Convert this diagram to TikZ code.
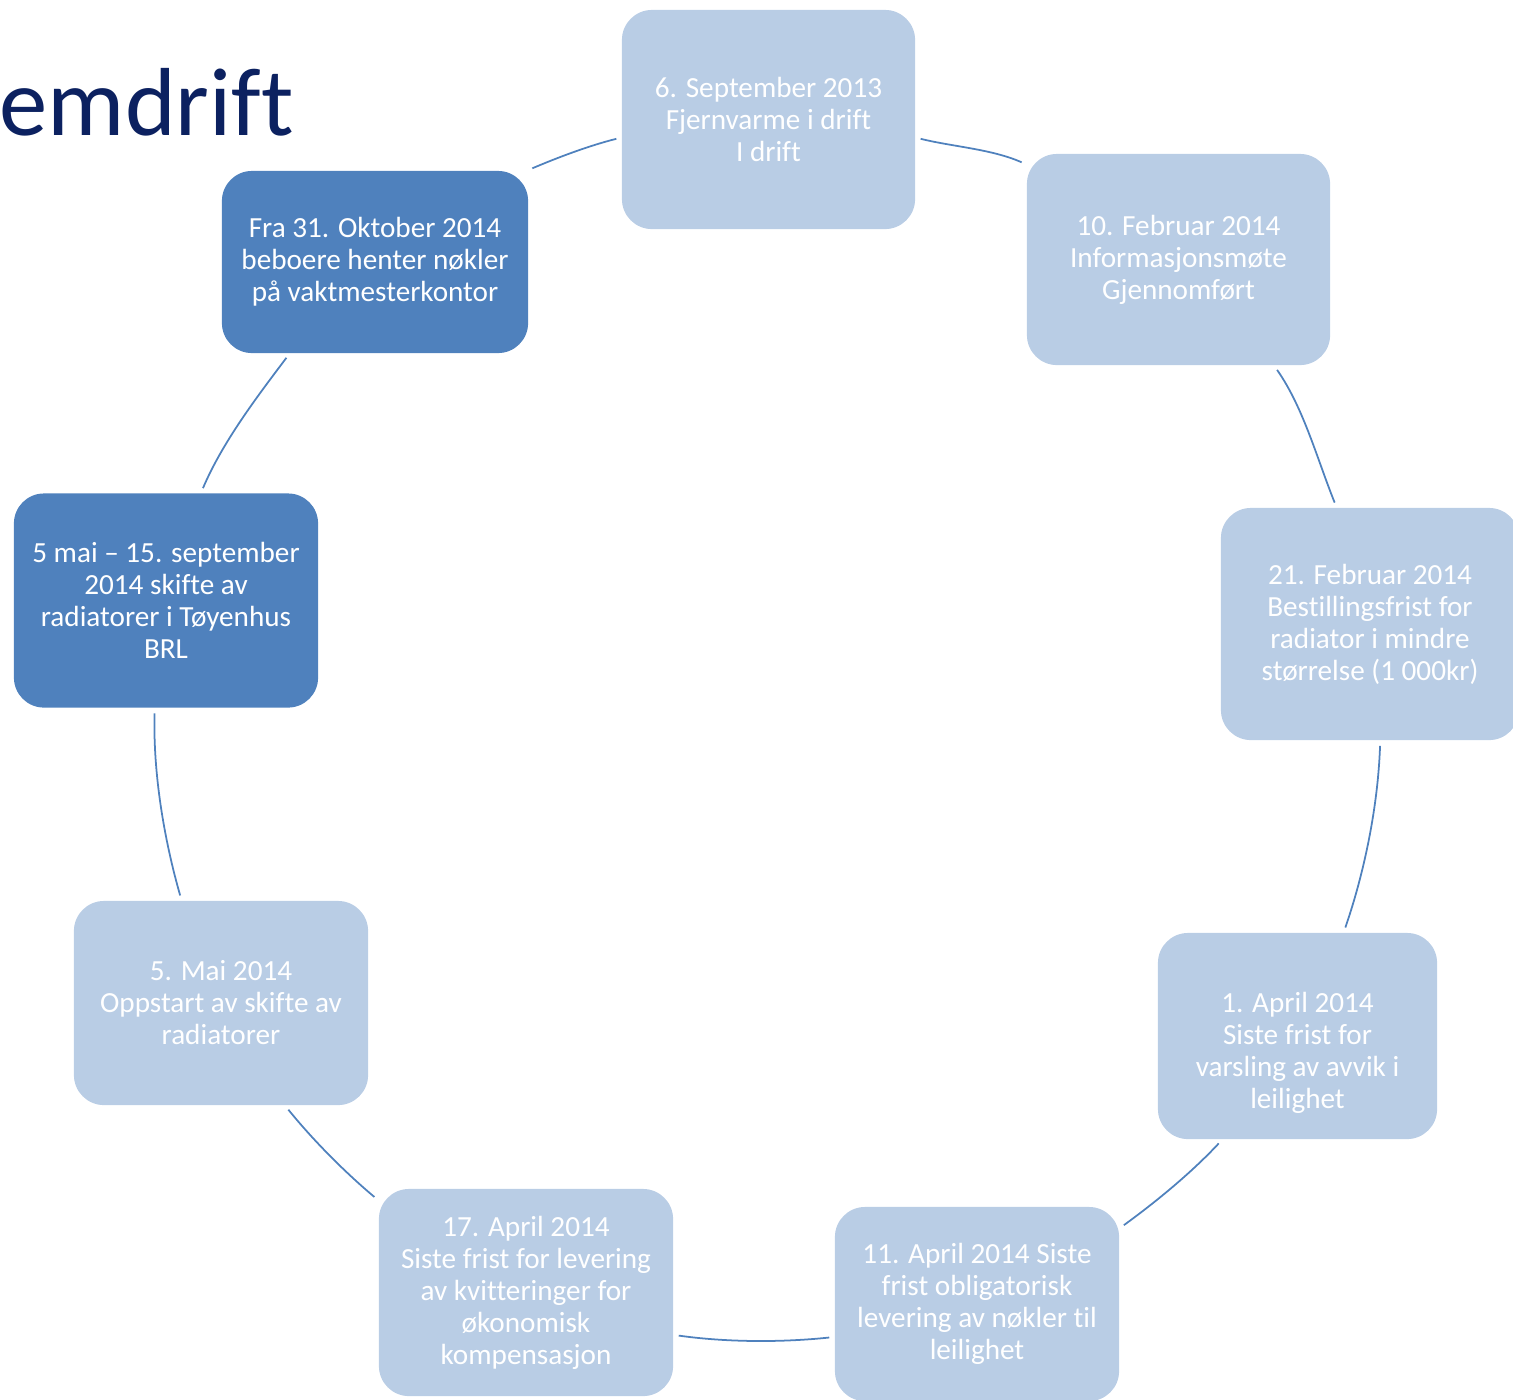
\documentclass[tikz,border=0pt]{standalone}
\usepackage{fontspec}
\setmainfont{Carlito}[Ligatures=CommonOff]
\usepackage{tikz}
\definecolor{lightbox}{HTML}{B9CDE5}
\definecolor{midblue}{HTML}{4F81BD}
\definecolor{titleblue}{HTML}{0C2160}
\newcommand{\boxfont}{\fontsize{8.3pt}{9.1pt}\selectfont}

\begin{document}
\begin{tikzpicture}[x=0.01cm, y=0.01cm,
  box/.style={rectangle, rounded corners=0.3cm, fill=lightbox, text=white, align=center, font=\boxfont, inner sep=0pt},
  darkbox/.style={box, fill=midblue},
  link/.style={draw=midblue, line width=0.5pt, looseness=0.85, shorten >=0.05cm, shorten <=0.05cm}]
  \clip (0,0) rectangle (1513,-1399);
  \node[anchor=base west, text=titleblue, font=\fontsize{27.5pt}{33pt}\selectfont, inner sep=0pt] (title) at (-1,-135) {emdrift};

  \node[box, minimum width=2.93cm, minimum height=2.19cm] (sept13) at (768.5,-119.5) {6. September 2013\\Fjernvarme i drift\\I drift};
  \node[box, minimum width=3.03cm, minimum height=2.11cm] (feb10) at (1178.5,-259.5) {10. Februar 2014\\Informasjonsmøte\\Gjennomført};
  \node[box, minimum width=2.98cm, minimum height=2.32cm] (feb21) at (1370,-624) {21. Februar 2014\\Bestillingsfrist for\\radiator i mindre\\størrelse (1 000kr)};
  \node[box, minimum width=2.79cm, minimum height=2.06cm] (apr1) at (1297.5,-1036) {\strut\\1. April 2014\\Siste frist for\\varsling av avvik i\\leilighet};
  \node[box, minimum width=2.84cm, minimum height=1.94cm] (apr11) at (977,-1304) {11. April 2014 Siste\\frist obligatorisk\\levering av nøkler til\\leilighet};
  \node[box, minimum width=2.94cm, minimum height=2.07cm] (apr17) at (526,-1292.5) {17. April 2014\\Siste frist for levering\\av kvitteringer for\\økonomisk\\kompensasjon};
  \node[box, minimum width=2.94cm, minimum height=2.04cm] (mai5) at (221,-1003) {5. Mai 2014\\Oppstart av skifte av\\radiatorer};
  \node[darkbox, minimum width=3.04cm, minimum height=2.14cm] (mai15) at (166,-600.5) {5 mai – 15. september\\2014 skifte av\\radiatorer i Tøyenhus\\BRL};
  \node[darkbox, minimum width=3.06cm, minimum height=1.82cm] (okt31) at (375,-262) {Fra 31. Oktober 2014\\beboere henter nøkler\\på vaktmesterkontor};

  \draw[link] (sept13.-7) to[out=-14, in=156] (feb10.148);
  \draw[link] (feb10.-48) to[out=-55, in=112] (feb21.106);
  \draw[link] (feb21.-85) to[out=-92, in=71] (apr1.66);
  \draw[link] (apr1.-126) to[out=-133, in=36] (apr11.28);
  \draw[link] (apr11.193) to[out=-174, in=-8] (apr17.-16);
  \draw[link] (apr17.148) to[out=140, in=-51] (mai5.-58);
  \draw[link] (mai5.111) to[out=106, in=-91.5] (mai15.-96.5);
  \draw[link] (mai15.72) to[out=67, in=-127] (okt31.-133.5);
  \draw[link] (okt31.31) to[out=23, in=-166] (sept13.187);
\end{tikzpicture}
\end{document}
